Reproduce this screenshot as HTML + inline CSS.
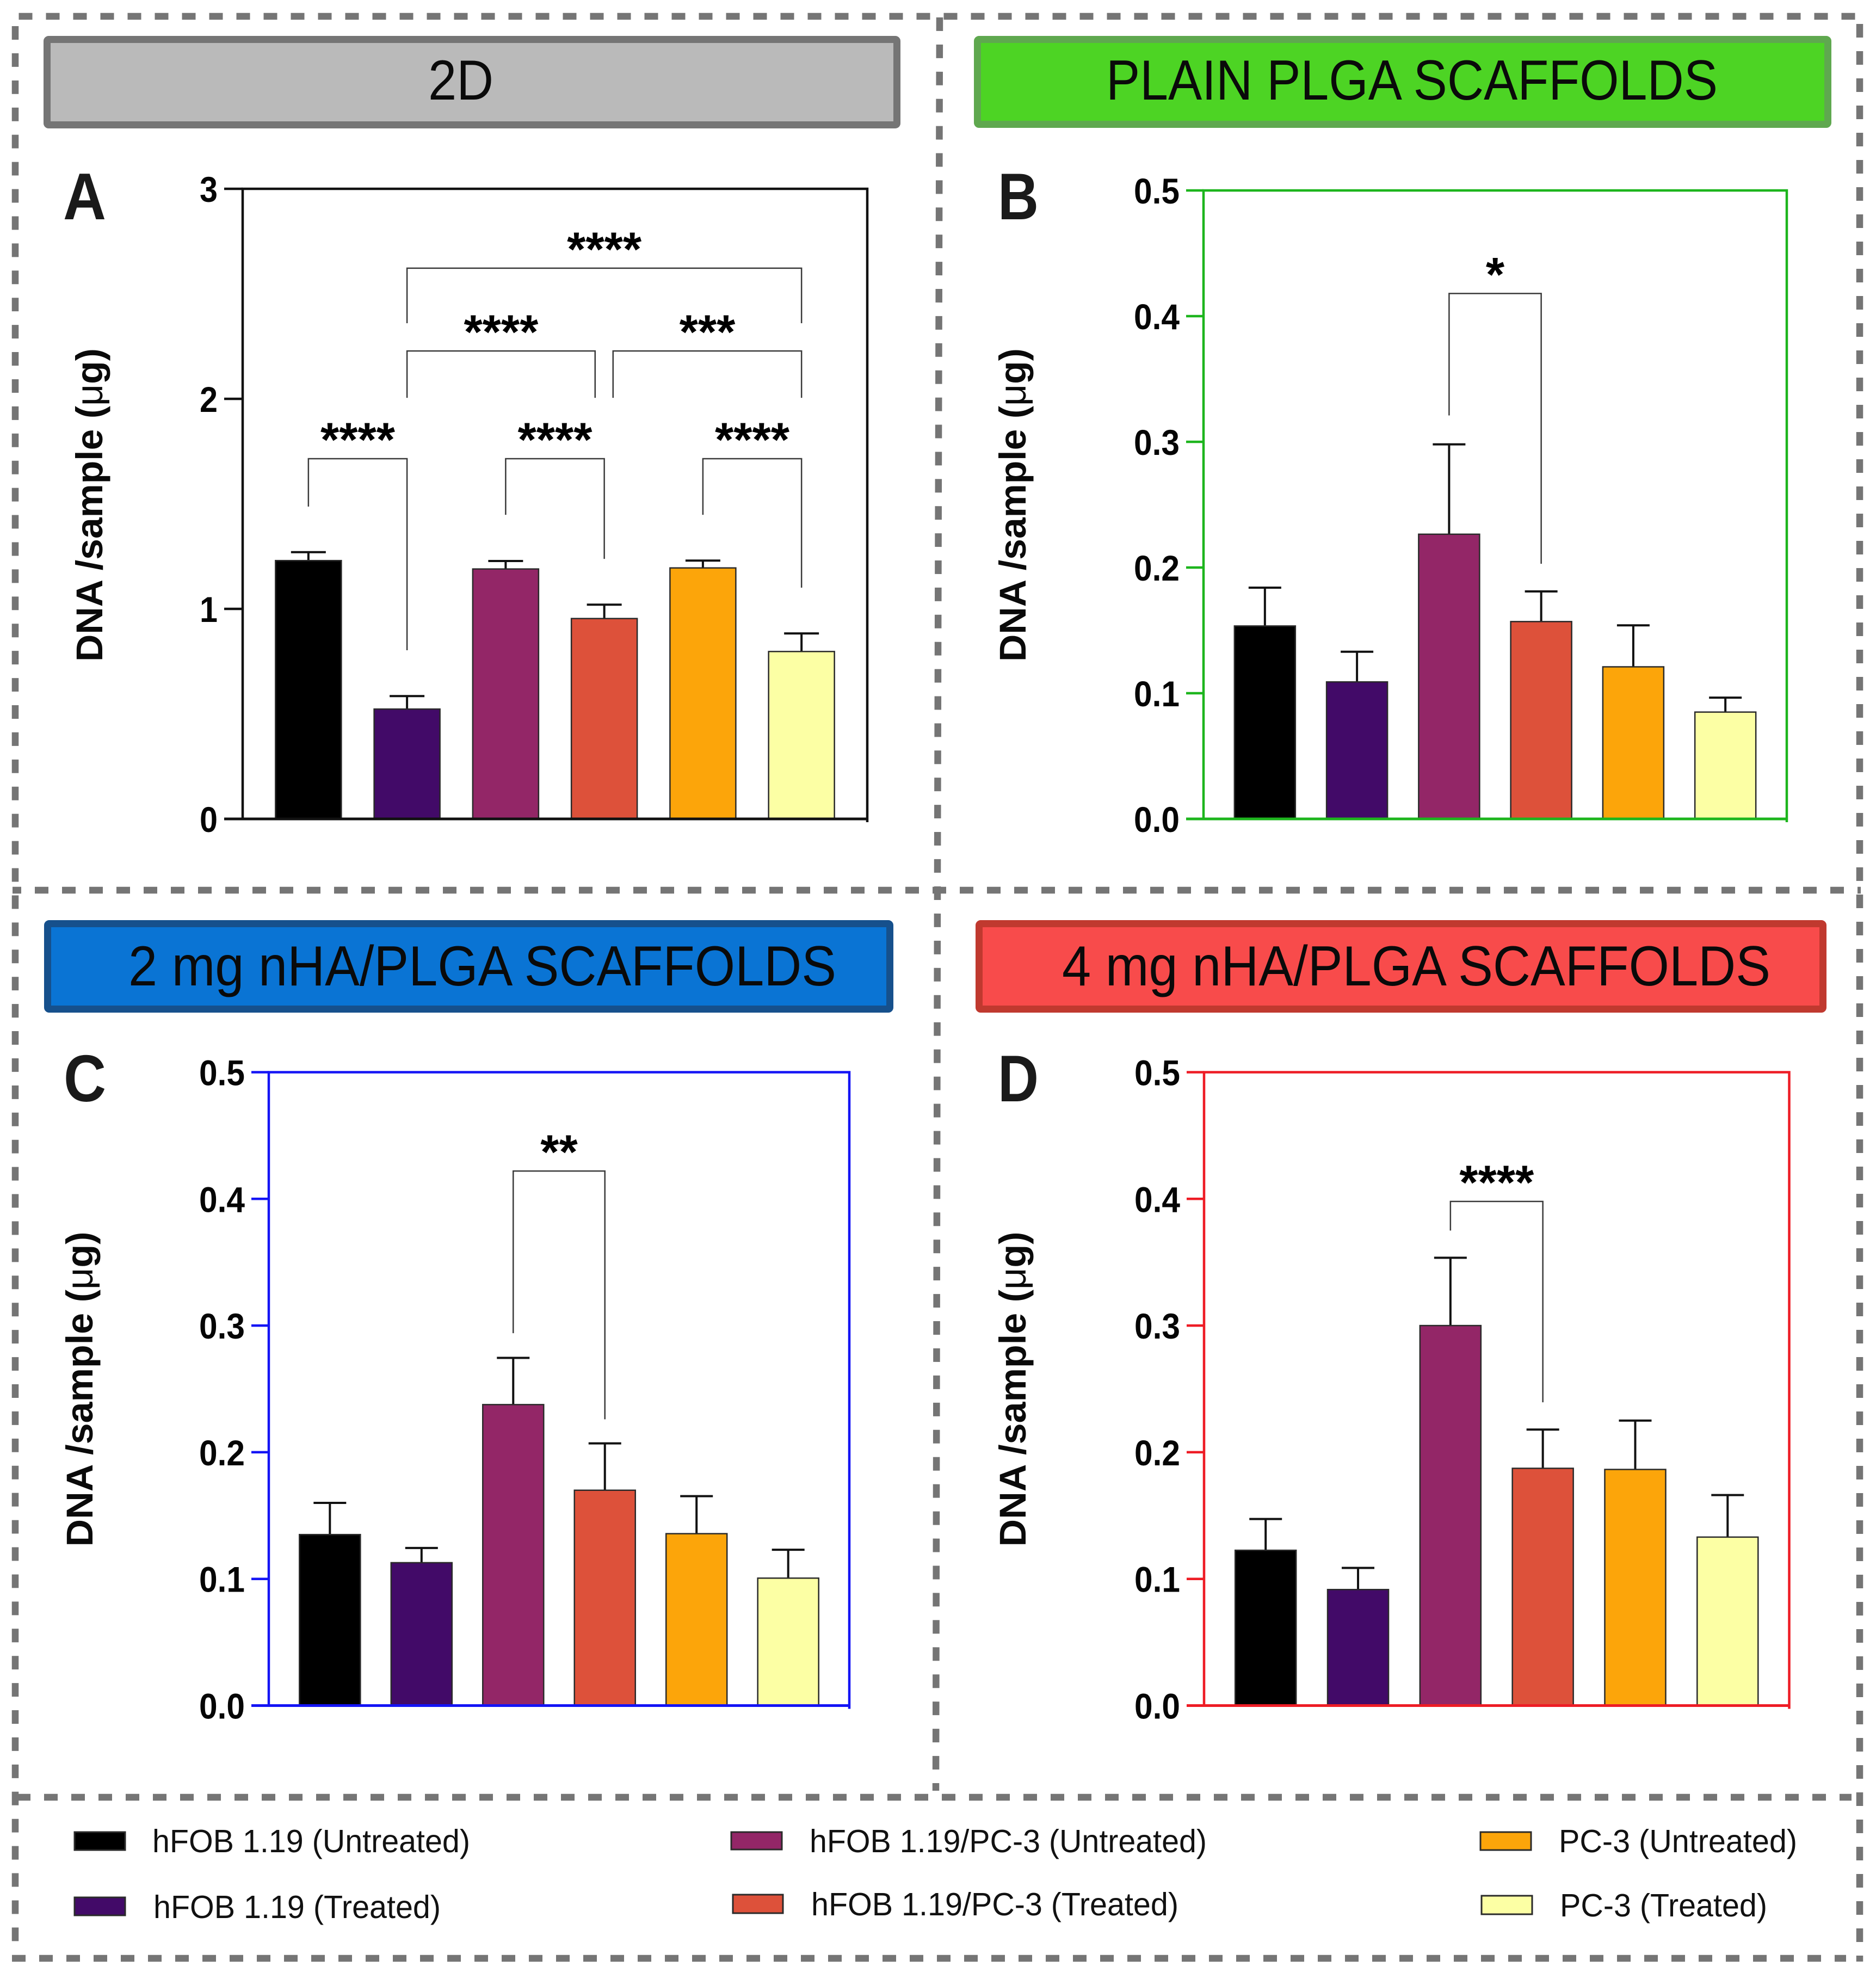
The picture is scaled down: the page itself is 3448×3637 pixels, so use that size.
<!DOCTYPE html>
<html lang="en">
<head>
<meta charset="utf-8">
<title>DNA per sample across 2D and scaffold cultures</title>
<style>
html,body{margin:0;padding:0;background:#fff;}
svg{display:block;}
text{font-family:"Liberation Sans",Arial,sans-serif;}
</style>
</head>
<body>
<svg id="figure" xmlns="http://www.w3.org/2000/svg" width="3448" height="3637" viewBox="0 0 3448 3637">
  <rect width="3448" height="3637" fill="#ffffff"/>

  <g fill="none" stroke="#757575" stroke-width="12.5" stroke-dasharray="25 25">
    <line x1="34.5" y1="30" x2="3417" y2="30"/>
    <line x1="28" y1="48" x2="28" y2="3570" stroke-dasharray="24.96 24.96"/>
    <line x1="3418" y1="44" x2="3418" y2="3605"/>
    <line x1="1727" y1="32" x2="1723" y2="1604" stroke-dasharray="24.95 24.95"/>
    <line x1="1723" y1="1629" x2="1720" y2="3291" stroke-dasharray="24.97 24.97"/>
    <line x1="23" y1="1636" x2="3420" y2="1636" stroke-dashoffset="9"/>
    <line x1="31" y1="3303" x2="3403" y2="3303"/>
    <line x1="22" y1="3599" x2="3393" y2="3599"/>
  </g>

  <g>
    <rect x="86.5" y="72.5" width="1562" height="157" rx="3" fill="#bababa" stroke="#757575" stroke-width="13"/>
    <text x="787" y="183" font-size="104" textLength="120" lengthAdjust="spacingAndGlyphs" fill="#0a0a0a">2D</text>
  </g>
  <g>
    <rect x="1796.5" y="72.5" width="1563" height="156" rx="3" fill="#4dd424" stroke="#5fa84f" stroke-width="13"/>
    <text x="2033" y="183" font-size="104" textLength="1124" lengthAdjust="spacingAndGlyphs" fill="#0a0a0a">PLAIN PLGA SCAFFOLDS</text>
  </g>
  <g>
    <rect x="87.5" y="1697.5" width="1548" height="157" rx="3" fill="#0a74d4" stroke="#16508c" stroke-width="13"/>
    <text x="236" y="1811" font-size="104" textLength="1301" lengthAdjust="spacingAndGlyphs" fill="#0a0a0a">2 mg nHA/PLGA SCAFFOLDS</text>
  </g>
  <g>
    <rect x="1799.5" y="1697.5" width="1551" height="157" rx="3" fill="#f84b4b" stroke="#c0392f" stroke-width="13"/>
    <text x="1952" y="1811" font-size="104" textLength="1302" lengthAdjust="spacingAndGlyphs" fill="#0a0a0a">4 mg nHA/PLGA SCAFFOLDS</text>
  </g>

  <g font-weight="bold" font-size="122" fill="#1a1a1a">
    <text x="116" y="403" textLength="79" lengthAdjust="spacingAndGlyphs">A</text>
    <text x="1834" y="403" textLength="75" lengthAdjust="spacingAndGlyphs">B</text>
    <text x="117" y="2024" textLength="78" lengthAdjust="spacingAndGlyphs">C</text>
    <text x="1834" y="2024" textLength="75" lengthAdjust="spacingAndGlyphs">D</text>
  </g>

  <g font-weight="bold" font-size="69" fill="#0a0a0a" text-anchor="middle">
    <text transform="translate(188 928) rotate(-90)" textLength="576" lengthAdjust="spacingAndGlyphs">DNA /sample (<tspan font-weight="normal">μ</tspan>g)</text>
    <text transform="translate(1885 928) rotate(-90)" textLength="576" lengthAdjust="spacingAndGlyphs">DNA /sample (<tspan font-weight="normal">μ</tspan>g)</text>
    <text transform="translate(170 2553) rotate(-90)" textLength="579" lengthAdjust="spacingAndGlyphs">DNA /sample (<tspan font-weight="normal">μ</tspan>g)</text>
    <text transform="translate(1885 2553) rotate(-90)" textLength="579" lengthAdjust="spacingAndGlyphs">DNA /sample (<tspan font-weight="normal">μ</tspan>g)</text>
  </g>

  <g id="charts"></g>

  <g stroke="#2a2a2a" stroke-width="3">
    <rect x="137" y="3367" width="93" height="33" fill="#000000"/>
    <rect x="137" y="3487" width="93" height="33" fill="#420a68"/>
    <rect x="1344" y="3367" width="93" height="32" fill="#932667"/>
    <rect x="1347" y="3482" width="92" height="34" fill="#dd513a"/>
    <rect x="2721" y="3367" width="93" height="33" fill="#fca50a"/>
    <rect x="2723" y="3484" width="93" height="34" fill="#fcffa4"/>
  </g>
  <g font-size="59" fill="#111111">
    <text x="280" y="3404" textLength="584" lengthAdjust="spacingAndGlyphs">hFOB 1.19 (Untreated)</text>
    <text x="282" y="3525" textLength="528" lengthAdjust="spacingAndGlyphs">hFOB 1.19 (Treated)</text>
    <text x="1488" y="3404" textLength="730" lengthAdjust="spacingAndGlyphs">hFOB 1.19/PC-3 (Untreated)</text>
    <text x="1491" y="3520" textLength="675" lengthAdjust="spacingAndGlyphs">hFOB 1.19/PC-3 (Treated)</text>
    <text x="2865" y="3404" textLength="438" lengthAdjust="spacingAndGlyphs">PC-3 (Untreated)</text>
    <text x="2867" y="3522" textLength="381" lengthAdjust="spacingAndGlyphs">PC-3 (Treated)</text>
  </g>
</svg>

<script>
const categories = ['hFOB 1.19 (Untreated)', 'hFOB 1.19 (Treated)', 'hFOB 1.19/PC-3 (Untreated)', 'hFOB 1.19/PC-3 (Treated)', 'PC-3 (Untreated)', 'PC-3 (Treated)'];
const barColors = ['#000000', '#420a68', '#932667', '#dd513a', '#fca50a', '#fcffa4'];

const ticksA = ['0', '1', '2', '3'];
const ticksScaffold = ['0.0', '0.1', '0.2', '0.3', '0.4', '0.5'];

const valuesA = [1.23, 0.523, 1.19, 0.954, 1.195, 0.797];
const errorTopsA = [1.27, 0.585, 1.228, 1.02, 1.23, 0.883];
const valuesB = [0.1535, 0.109, 0.2265, 0.157, 0.121, 0.085];
const errorTopsB = [0.184, 0.133, 0.298, 0.181, 0.154, 0.0965];
const valuesC = [0.135, 0.1128, 0.2376, 0.17, 0.1357, 0.1006];
const errorTopsC = [0.16, 0.1244, 0.2745, 0.207, 0.1653, 0.123];
const valuesD = [0.1226, 0.0916, 0.3, 0.1873, 0.1864, 0.133];
const errorTopsD = [0.1473, 0.1087, 0.3535, 0.2179, 0.225, 0.1662];

const bracketsA = [
  {from: 1, to: 5, top: 2.622, dropFrom: 2.36, dropTo: 2.36, label: '****'},
  {from: 1, to: 2.907, top: 2.228, dropFrom: 2.005, dropTo: 2.005, label: '****'},
  {from: 3.089, to: 5, top: 2.228, dropFrom: 2.005, dropTo: 2.005, label: '***'},
  {from: 0, to: 1, top: 1.715, dropFrom: 1.487, dropTo: 0.803, label: '****'},
  {from: 2, to: 3, top: 1.715, dropFrom: 1.448, dropTo: 1.238, label: '****'},
  {from: 4, to: 5, top: 1.715, dropFrom: 1.448, dropTo: 1.101, label: '****'}
];
const bracketsB = [{from: 2, to: 3, top: 0.418, dropFrom: 0.321, dropTo: 0.203, label: '*'}];
const bracketsC = [{from: 2, to: 3, top: 0.422, dropFrom: 0.294, dropTo: 0.226, label: '**'}];
const bracketsD = [{from: 2, to: 3, top: 0.398, dropFrom: 0.375, dropTo: 0.2394, label: '****'}];

const SVG_NS = 'http://www.w3.org/2000/svg';

function shape(parent, tag, geometry) {
  const el = document.createElementNS(SVG_NS, tag);
  for (const key in geometry) {
    el.setAttribute(key, geometry[key]);
  }
  parent.appendChild(el);
  return el;
}

function drawPanel(id, box, axisColor, barWidth, capWidth, tickLength, ticks, values, errorTops, brackets) {
  const root = document.getElementById('charts');
  const group = shape(root, 'g', {});
  
  

  const yMax = parseFloat(ticks[ticks.length - 1]);
  const yScale = function (v) { return box.bottom - (v / yMax) * (box.bottom - box.top); };
  const step = (box.right - box.left) / (categories.length - 1 + 4 / 3);
  const xScale = function (i) { return box.left + (i + 2 / 3) * step; };

  const frame = shape(group, 'path', {
    d: 'M' + box.left + ' ' + box.bottom + 'V' + box.top + 'H' + box.right + 'V' + (box.bottom + 6),
    fill: 'none', stroke: axisColor, 'stroke-width': 4.5
  });
  
  

  ticks.forEach(function (label) {
    const v = parseFloat(label);
    const tick = shape(group, 'line', {
      x1: box.left - tickLength, x2: box.left, y1: yScale(v), y2: yScale(v),
      stroke: axisColor, 'stroke-width': 4.5
    });
    
    
    const text = shape(group, 'text', {
      x: box.left - tickLength - 12, y: yScale(v) + 24,
      'text-anchor': 'end', 'font-size': 66, 'font-weight': 'bold', fill: '#050505',
      textLength: label.length === 1 ? 33 : 84, lengthAdjust: 'spacingAndGlyphs'
    });
    
    
    text.textContent = label;
  });

  categories.forEach(function (category, i) {
    const cx = xScale(i);
    const err = shape(group, 'path', {
      d: 'M' + cx + ' ' + yScale(values[i]) + 'V' + yScale(errorTops[i]) +
         'M' + (cx - capWidth / 2) + ' ' + yScale(errorTops[i]) + 'H' + (cx + capWidth / 2),
      fill: 'none', stroke: '#111111', 'stroke-width': 4
    });
    
    
    const bar = shape(group, 'rect', {
      x: cx - barWidth / 2, y: yScale(values[i]), width: barWidth, height: yScale(0) - yScale(values[i]),
      fill: barColors[i], stroke: '#2a2a2a', 'stroke-width': 2.5
    });
    
    
    const tip = shape(bar, 'title', {});
    tip.textContent = category;
  });

  const baseline = shape(group, 'line', {
    x1: box.left - tickLength, x2: box.right + 2, y1: box.bottom, y2: box.bottom,
    stroke: axisColor, 'stroke-width': 5
  });
  
  

  brackets.forEach(function (b) {
    const x1 = xScale(b.from);
    const x2 = xScale(b.to);
    const line = shape(group, 'path', {
      d: 'M' + x1 + ' ' + yScale(b.dropFrom) + 'V' + yScale(b.top) + 'H' + x2 + 'V' + yScale(b.dropTo),
      fill: 'none', stroke: '#3a3a3a', 'stroke-width': 2.5
    });
    
    
    const stars = shape(group, 'text', {
      x: (x1 + x2) / 2, y: yScale(b.top) - 5,
      'text-anchor': 'middle', 'font-size': 88, 'font-weight': 'bold', fill: '#000000'
    });
    
    
    stars.textContent = b.label;
  });
}

drawPanel('a', {left: 446, right: 1594, top: 347, bottom: 1505}, '#111111', 121, 64, 34, ticksA, valuesA, errorTopsA, bracketsA);
drawPanel('b', {left: 2212, right: 3284, top: 350, bottom: 1505}, '#1db51d', 112, 60, 32, ticksScaffold, valuesB, errorTopsB, bracketsB);
drawPanel('c', {left: 494, right: 1561, top: 1970.5, bottom: 3134.5}, '#1414f5', 112, 60, 32, ticksScaffold, valuesC, errorTopsC, bracketsC);
drawPanel('d', {left: 2213, right: 3288.5, top: 1970.5, bottom: 3134.5}, '#ee1c25', 112, 60, 32, ticksScaffold, valuesD, errorTopsD, bracketsD);
</script>
</body>
</html>
